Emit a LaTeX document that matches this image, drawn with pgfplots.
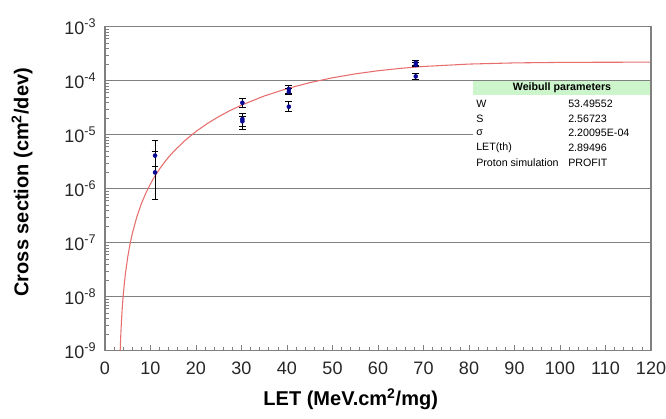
\documentclass[border=0pt]{standalone}
\usepackage{fontspec}
\setmainfont{Liberation Sans}
\usepackage{pgfplots}
\pgfplotsset{compat=1.18}
\usepackage{pgfplotstable}
\definecolor{gridgray}{RGB}{128,128,128}
\definecolor{curvered}{RGB}{232,110,110}
\definecolor{ptblue}{RGB}{10,10,150}
\definecolor{hdrgreen}{RGB}{204,245,204}

\pgfplotstableread{
x y ep em
11.0 4.1e-6 3.6e-6 1.5e-6
11.0 2.0e-6 3.0e-6 1.38e-6
30.2 3.9e-5 0.88e-5 0.74e-5
30.2 1.95e-5 0.55e-5 0.52e-5
30.2 1.77e-5 0.45e-5 0.53e-5
40.4 7.0e-5 1.07e-5 1.2e-5
40.4 6.2e-5 1.0e-5 0.7e-5
40.4 3.3e-5 0.85e-5 0.6e-5
68.3 2.15e-4 0.23e-4 0.2e-4
68.3 1.95e-4 0.2e-4 0.15e-4
68.3 1.2e-4 0.15e-4 0.15e-4
}\pts

\pgfplotstableread{
x y
3.3 7.906e-10
3.4 1.393e-9
3.5 2.215e-9
3.6 3.281e-9
3.7 4.612e-9
3.8 6.228e-9
4.0 1.040e-8
4.25 1.755e-8
4.5 2.711e-8
5.0 5.439e-8
5.5 9.398e-8
6.0 1.475e-7
7.0 3.019e-7
8.0 5.281e-7
9.0 8.353e-7
10 1.232e-6
11 1.7255e-6
12 2.323e-6
13 3.0305e-6
14 3.854e-6
15 4.798e-6
17.5 7.717e-6
20 1.1475e-5
22.5 1.6108e-5
25 2.1626e-5
27.5 2.802e-5
30 3.5257e-5
35 5.2015e-5
40 7.1219e-5
45 9.194e-5
50 1.1311e-4
55 1.3366e-4
60 1.5263e-4
65 1.6934e-4
70 1.8333e-4
80 2.0302e-4
90 2.1342e-4
100 2.1793e-4
110 2.1952e-4
120 2.1997e-4
}\weib

\begin{document}
\begin{tikzpicture}
\begin{axis}[
  at={(0,0)}, anchor=south west,
  scale only axis, width=409.5pt, height=243pt,
  xmin=0, xmax=120, ymode=log, ymin=1e-9, ymax=1e-3,
  xtick={0,10,...,120}, minor x tick num=4,
  ytick={1e-9,1e-8,1e-7,1e-6,1e-5,1e-4,1e-3},
  yticklabels={10\textsuperscript{-9},10\textsuperscript{-8},10\textsuperscript{-7},10\textsuperscript{-6},10\textsuperscript{-5},10\textsuperscript{-4},10\textsuperscript{-3}},
  /pgf/number format/assume math mode=true,
  ymajorgrids, major grid style={gridgray, line width=0.9pt},
  axis line style={gridgray, line width=0.9pt},
  tick style={gridgray, line width=0.6pt},
  tick pos=left, tick align=inside,
  major tick length=4.5pt, minor tick length=3pt,
  ticklabel style={font=\fontsize{13.5}{15}\selectfont, text=black!85},
  xticklabel style={yshift=-5pt},
  yticklabel style={xshift=-3pt},
  xlabel={LET (MeV.cm\textsuperscript{2}/mg)},
  ylabel={Cross section (cm\textsuperscript{2}/dev)},
  xlabel style={at={(axis description cs:0.45,-0.151)}, anchor=center, font=\fontsize{15}{17}\selectfont\bfseries},
  ylabel style={at={(axis description cs:-0.152,0.52)}, anchor=center, font=\fontsize{15}{17}\selectfont\bfseries},
]
\addplot[curvered, line width=0.8pt, no marks] table[x=x, y=y] {\weib};
\addplot[only marks, mark=*, mark size=1.5pt, color=ptblue,
  error bars/.cd, y dir=both, y explicit,
  error bar style={black, line width=0.6pt},
  error mark options={rotate=90, black, mark size=2.5pt, line width=0.6pt}]
  table[x=x, y=y, y error plus=ep, y error minus=em] {\pts};
\fill[white] (rel axis cs:0.674,0.565) rectangle (rel axis cs:1,0.8333);
\fill[hdrgreen] (rel axis cs:0.674,0.7901) rectangle (rel axis cs:1,0.8333);
\draw[gridgray, line width=0.9pt] (rel axis cs:1,0.5) -- (rel axis cs:1,0.9);
\node[font=\fontsize{8}{9}\selectfont\bfseries] at (rel axis cs:0.837,0.812) {Weibull parameters};
\begin{scope}[every node/.style={anchor=west, inner sep=0pt, font=\fontsize{8}{9}\selectfont}]
\node at (rel axis cs:0.6795,0.7614) {W};
\node at (rel axis cs:0.848,0.7614) {53.49552};
\node at (rel axis cs:0.6795,0.7170) {S};
\node at (rel axis cs:0.848,0.7170) {2.56723};
\node at (rel axis cs:0.6795,0.6719) {σ};
\node at (rel axis cs:0.848,0.6719) {2.20095E-04};
\node at (rel axis cs:0.6795,0.6275) {LET(th)};
\node at (rel axis cs:0.848,0.6275) {2.89496};
\node at (rel axis cs:0.6795,0.5812) {Proton simulation};
\node at (rel axis cs:0.848,0.5812) {PROFIT};
\end{scope}
\end{axis}
\pgfresetboundingbox
\path[use as bounding box] (-78.75pt,-51pt) rectangle (420.75pt,263pt);
\end{tikzpicture}
\end{document}
